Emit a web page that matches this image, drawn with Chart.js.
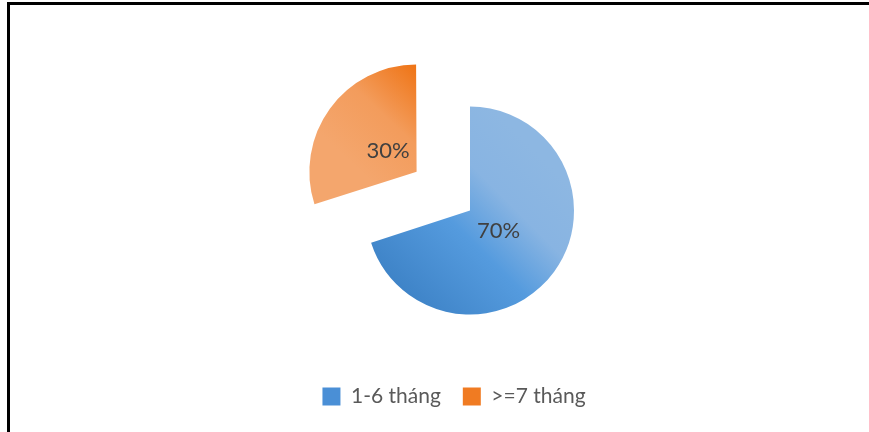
<!DOCTYPE html>
<html>
<head>
<meta charset="utf-8">
<script src="https://cdn.jsdelivr.net/npm/chart.js@4"></script>
<style>
    html, body { margin: 0; padding: 0; background: #fff; }
    #wrap { position: relative; width: 869px; height: 432px; overflow: hidden; }
    #frame {
        position: absolute; left: 7px; top: 2px; right: -10px; bottom: -10px;
        border-top: 3px solid #000; border-left: 3px solid #000;
        pointer-events: none;
    }
</style>
</head>
<body>
<div id="wrap">
    <canvas id="pieChart" width="869" height="432"></canvas>
    <div id="frame"></div>
</div>
<script>
const labels = ['1-6 tháng', '>=7 tháng'];
const values = [70, 30];
const offsets = [0, 264];
const legendColors = ['#4a8fd6', '#f07b22'];

const RADIUS = 104;

// Excel-like gradient fill per slice, in chart coordinates around the pie centre
function sliceFill(context) {
    const chart = context.chart;
    const area = chart.chartArea;
    if (!area) return legendColors[context.dataIndex];
    const ctx = chart.ctx;
    const cx = (area.left + area.right) / 2;
    const cy = (area.top + area.bottom) / 2;
    const r = RADIUS;
    let g;
    if (context.dataIndex === 0) {
        g = ctx.createLinearGradient(cx - 0.75 * r, cy + 0.75 * r, cx + 0.6 * r, cy - 0.6 * r);
        g.addColorStop(0, '#3d82c6');
        g.addColorStop(0.45, '#559bde');
        g.addColorStop(0.72, '#88b4e2');
        g.addColorStop(1, '#8db7e2');
    } else {
        g = ctx.createLinearGradient(cx, cy - r, cx - 0.75 * r, cy - 0.2 * r);
        g.addColorStop(0, '#ef7517');
        g.addColorStop(0.5, '#f39c5c');
        g.addColorStop(1, '#f4a66d');
    }
    return g;
}

const percentLabels = {
    id: 'percentLabels',
    afterDatasetsDraw(chart) {
        const ctx = chart.ctx;
        const meta = chart.getDatasetMeta(0);
        ctx.save();
        ctx.font = '22px Lato';
        ctx.fillStyle = '#404040';
        ctx.textAlign = 'center';
        ctx.textBaseline = 'middle';
        meta.data.forEach((arc, i) => {
            const p = arc.getProps(['x', 'y', 'startAngle', 'endAngle', 'outerRadius']);
            const mid = (p.startAngle + p.endAngle) / 2;
            const d = (arc.options.offset || 0) / 4 + 0.34 * p.outerRadius;
            ctx.fillText(values[i] + '%', p.x + Math.cos(mid) * d, p.y + Math.sin(mid) * d);
        });
        ctx.restore();
    }
};

// legend sits a bit left of the pie centre in the original
const shiftLegend = {
    id: 'shiftLegend',
    afterLayout(chart) {
        chart.legend.left -= 16;
        chart.legend.right -= 16;
    }
};

const chart = new Chart(document.getElementById('pieChart'), {
    type: 'pie',
    data: {
        labels: labels,
        datasets: [{
            data: values,
            backgroundColor: sliceFill,
            borderWidth: 0,
            offset: offsets,
            hoverOffset: 0
        }]
    },
    options: {
        responsive: false,
        animation: false,
        radius: RADIUS,
        layout: { padding: { top: 57, bottom: 15, left: 71, right: 0 } },
        plugins: {
            tooltip: { enabled: false },
            legend: {
                position: 'bottom',
                labels: {
                    boxWidth: 18,
                    boxHeight: 18,
                    padding: 22,
                    color: '#595959',
                    font: { family: 'Lato', size: 21 },
                    generateLabels(chart) {
                        const items = Chart.overrides.pie.plugins.legend.labels.generateLabels(chart);
                        items.forEach((it, i) => {
                            it.fillStyle = legendColors[i];
                            it.strokeStyle = legendColors[i];
                            it.lineWidth = 0;
                        });
                        return items;
                    }
                }
            }
        }
    },
    plugins: [percentLabels, shiftLegend]
});
</script>
</body>
</html>
